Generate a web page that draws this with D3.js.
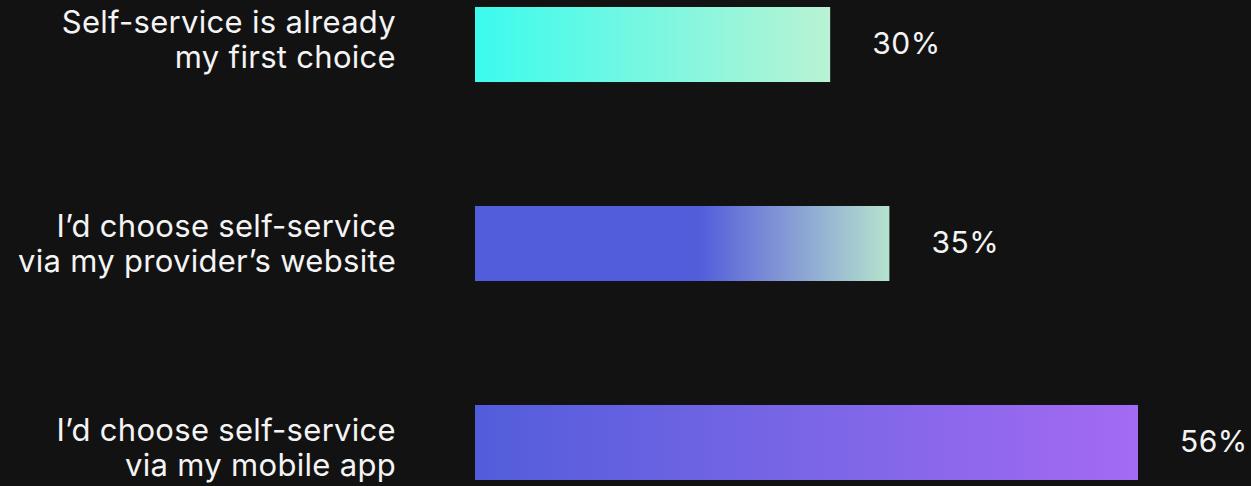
<!DOCTYPE html>
<html>
<head>
<meta charset="utf-8">
<script src="https://cdn.jsdelivr.net/npm/d3@7"></script>
<style>
  html, body { margin: 0; padding: 0; background: #121212; }
  svg { display: block; }
  text { font-family: Inter, "Noto Sans", sans-serif; fill: #f4f4f4; }
</style>
</head>
<body>
<svg id="chart" width="1251" height="486"></svg>
<script>
// Survey answers, each split over two label lines
const categories = [
  "Self-service is already|my first choice",
  "I’d choose self-service|via my provider’s website",
  "I’d choose self-service|via my mobile app"
];
const values = [30, 35, 56];
const valueLabels = ["30%", "35%", "56%"];

// Gradient stops per bar: [offset, colour]
const gradients = [
  [[0, "#3bfbee"], [1, "#b9f3d3"]],
  [[0, "#525ddb"], [0.54, "#525ddb"], [0.7, "#7a8ad6"], [1, "#b5e3cd"]],
  [[0, "#525ddb"], [0.5, "#7a66e6"], [1, "#a46af3"]]
];

const svg = d3.select("#chart");

const x = d3.scaleLinear().domain([0, d3.max(values)]).range([475, 1138]);
const y = d3.scaleBand().domain(d3.range(categories.length))
  .range([7, 480]).paddingInner(0.623).paddingOuter(0);
// label blocks sit on a slightly different row spacing
const yLabel = d3.scalePoint().domain(d3.range(categories.length)).range([39.5, 448]);

const defs = svg.append("defs");
gradients.forEach((stops, i) => {
  const g = defs.append("linearGradient").attr("id", "grad" + i)
    .attr("x1", "0%").attr("x2", "100%").attr("y1", "0%").attr("y2", "0%");
  stops.forEach(s => g.append("stop").attr("offset", s[0]).attr("stop-color", s[1]));
});

const rows = svg.selectAll("g.row").data(values).join("g").attr("class", "row");

rows.append("rect")
  .attr("x", x(0))
  .attr("y", (d, i) => y(i))
  .attr("width", d => x(d) - x(0))
  .attr("height", y.bandwidth())
  .attr("fill", (d, i) => `url(#grad${i})`);

rows.append("text")
  .attr("x", d => x(d) + 42)
  .attr("y", (d, i) => y(i) + y.bandwidth() / 2)
  .attr("dy", "0.32em")
  .attr("font-size", 30)
  .attr("letter-spacing", "0.5px")
  .text((d, i) => valueLabels[i]);

const lineH = 35;
rows.each(function(d, i) {
  const lines = categories[i].split("|");
  const t = d3.select(this).append("text")
    .attr("text-anchor", "end")
    .attr("font-size", 31)
    .attr("letter-spacing", "0.3px");
  lines.forEach((ln, k) => {
    t.append("tspan")
      .attr("x", 396)
      .attr("y", yLabel(i) + (k - (lines.length - 1) / 2) * lineH)
      .attr("dy", "0.35em")
      .text(ln);
  });
});
</script>
</body>
</html>
